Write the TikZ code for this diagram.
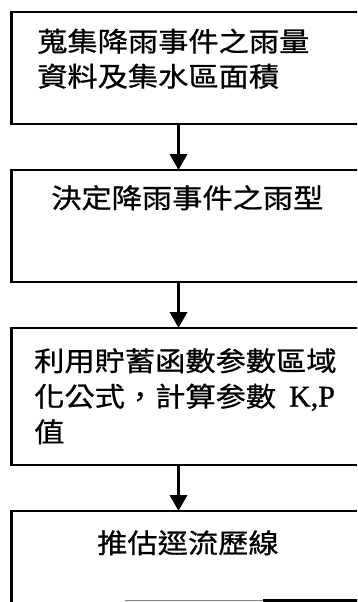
\documentclass[tikz,border=0pt]{standalone}
\usepackage{fontspec}
\usetikzlibrary{arrows.meta,calc}
\newfontfamily\cjkfont[FakeStretch=1.12,FakeBold=0.8]{Noto Sans CJK TC}
\newfontfamily\latfont[FakeBold=0.8]{Liberation Serif}
\begin{document}
\begin{tikzpicture}[x=1pt,y=-1pt,
  box/.style={draw, line width=2.4pt, rectangle, minimum width=420pt, inner sep=0pt, outer sep=0pt, anchor=north west},
  openbox/.style={rectangle, minimum width=420pt, inner sep=0pt, outer sep=0pt, anchor=north west},
  lbl/.style={anchor=base west, inner sep=0pt, font=\cjkfont\fontsize{27}{35}\selectfont},
  flow/.style={line width=3.5pt, -{Triangle[width=17pt,length=16pt]}}]
\useasboundingbox (0,0) rectangle (357,602);
\clip (0,0) rectangle (357,602);
\fill[white] (0,0) rectangle (357,602);

% boxes
\node[box, minimum height=112pt] (b1) at (11.5,12) {};
\node[box, minimum height=112pt] (b2) at (11.5,170) {};
\node[box, minimum height=137pt] (b3) at (11.5,328) {};
\node[openbox, minimum height=89pt] (b4) at (11.5,511) {};
\draw[line width=2.4pt] ($(b4.south west)+(0,4)$) -- (b4.north west) -- (b4.north east);
\draw[gray, line width=1.2pt] ($(b4.south west)+(113,0.5)$) -- ($(b4.south west)+(251,0.5)$);
\draw[line width=2.4pt] ($(b4.south west)+(251,0.5)$) -- ($(b4.south east)+(0,0.5)$);

% texts
\node[lbl] (t1a) at (37,51.5) {蒐集降雨事件之雨量};
\node[lbl] (t1b) at (37,86.5) {資料及集水區面積};
\node[lbl] (t2) at (51,208) {決定降雨事件之雨型};
\node[lbl] (t3a) at (34,371) {利用貯蓄函數参數區域};
\node[lbl] (t3b) at (34,406.5) {化公式，計算参數\hspace{13pt}{\latfont\fontsize{30}{35}\selectfont K,P}};
\node[lbl] (t3c) at (34,442) {值};
\node[lbl] (t4) at (97,553) {推估逕流歷線};

% connectors
\draw[flow] ($(b1.south west)+(167,0)$) -- ($(b2.north west)+(167,0)$);
\draw[flow] ($(b2.south west)+(167,0)$) -- ($(b3.north west)+(167,0)$);
\draw[flow] ($(b3.south west)+(167,0)$) -- ($(b4.north west)+(167,0)$);
\end{tikzpicture}
\end{document}
